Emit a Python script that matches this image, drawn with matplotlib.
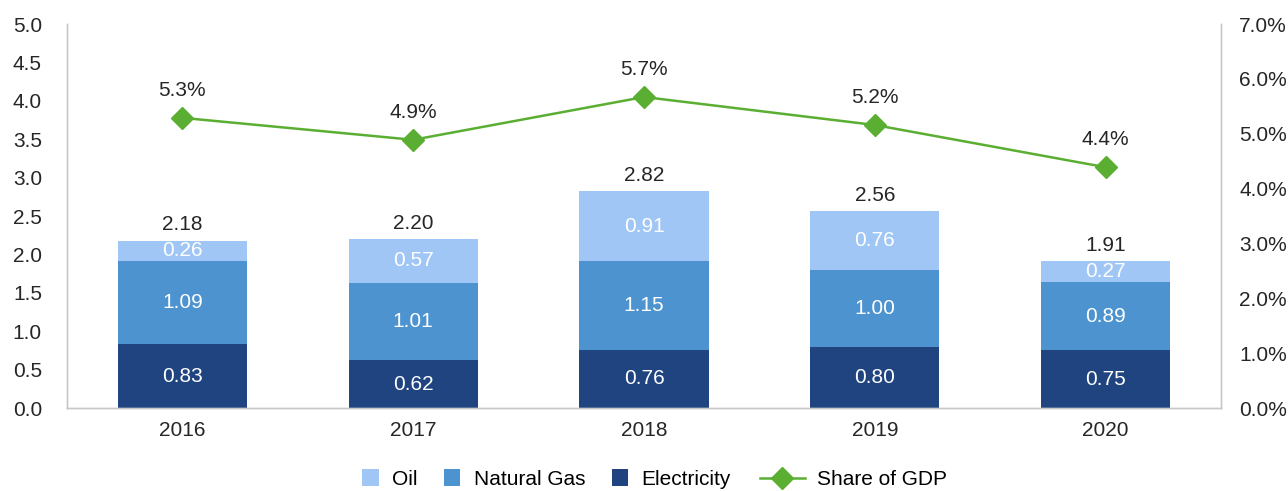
import matplotlib
matplotlib.use("Agg")
import matplotlib.pyplot as plt
from matplotlib.lines import Line2D
from matplotlib.patches import Patch, Rectangle
from matplotlib.legend_handler import HandlerPatch
import numpy as np

plt.rcParams['font.family'] = ['Liberation Sans', 'DejaVu Sans']

years = ["2016", "2017", "2018", "2019", "2020"]
electricity = [0.83, 0.62, 0.76, 0.80, 0.75]
natural_gas = [1.09, 1.01, 1.15, 1.00, 0.89]
oil = [0.26, 0.57, 0.91, 0.76, 0.27]
totals = [2.18, 2.20, 2.82, 2.56, 1.91]
share_gdp = [5.29, 4.89, 5.67, 5.16, 4.39]

c_oil = "#A0C6F6"
c_gas = "#4C93CF"
c_elec = "#1F4480"
c_line = "#5AAF32"
txt = "#262626"
grey = "#C8C8C8"


class SquareHandler(HandlerPatch):
    def create_artists(self, legend, orig_handle, xdescent, ydescent, width, height, fontsize, trans):
        s = width
        x0 = -xdescent
        y0 = (height - s) / 2 - ydescent
        p = Rectangle((x0, y0), s, s, facecolor=orig_handle.get_facecolor(), edgecolor="none", transform=trans)
        return [p]


fig = plt.figure(figsize=(12.88, 4.91), dpi=100)
ax = fig.add_axes([0.052, 0.169, 0.896, 0.782])
ax2 = ax.twinx()

x = np.arange(len(years))
w = 0.56
ax.bar(x, electricity, w, color=c_elec, zorder=2)
ax.bar(x, natural_gas, w, bottom=electricity, color=c_gas, zorder=2)
bottom3 = [e + g for e, g in zip(electricity, natural_gas)]
ax.bar(x, oil, w, bottom=bottom3, color=c_oil, zorder=2)

fs = 15
for i in range(len(years)):
    ax.text(x[i], electricity[i] / 2, f"{electricity[i]:.2f}", ha="center", va="center", color="white", fontsize=fs)
    ax.text(x[i], electricity[i] + natural_gas[i] / 2, f"{natural_gas[i]:.2f}", ha="center", va="center", color="white", fontsize=fs)
    ax.text(x[i], bottom3[i] + oil[i] / 2, f"{oil[i]:.2f}", ha="center", va="center", color="white", fontsize=fs)
    ax.text(x[i], bottom3[i] + oil[i] + 0.08, f"{totals[i]:.2f}", ha="center", va="bottom", color=txt, fontsize=fs)

ax2.plot(x, share_gdp, color=c_line, lw=1.8, marker="D", markersize=11.5, zorder=3)
for i in range(len(years)):
    ax2.text(x[i], share_gdp[i] + 0.33, f"{share_gdp[i]:.1f}%", ha="center", va="bottom", color=txt, fontsize=fs)

ax.set_xlim(-0.5, len(years) - 0.5)
ax.set_ylim(0, 5.0)
ax.set_yticks(np.arange(0, 5.01, 0.5))
ax.set_yticklabels([f"{v:.1f}" for v in np.arange(0, 5.01, 0.5)])
ax2.set_ylim(0, 7.0)
ax2.set_yticks(np.arange(0, 7.01, 1.0))
ax2.set_yticklabels([f"{v:.1f}%" for v in np.arange(0, 7.01, 1.0)])
ax.set_xticks(x)
ax.set_xticklabels(years)

for a in (ax, ax2):
    a.spines["top"].set_visible(False)
    for s in ("left", "right", "bottom"):
        a.spines[s].set_color(grey)
        a.spines[s].set_linewidth(1.0)
    a.tick_params(length=0, labelsize=fs, colors=txt)
ax.tick_params(axis="y", pad=18)
ax2.tick_params(axis="y", pad=13)
ax.tick_params(axis="x", pad=9)

patch_handles = [Patch(facecolor=c_oil, label="Oil"),
                 Patch(facecolor=c_gas, label="Natural Gas"),
                 Patch(facecolor=c_elec, label="Electricity")]
line_handle = [Line2D([0], [0], color=c_line, lw=1.8, marker="D", markersize=11.5, label="Share of GDP")]

ly = 0.004
leg1 = fig.legend(handles=patch_handles, loc="lower left", ncol=3, frameon=False, fontsize=fs,
                  bbox_to_anchor=(362 / 1288, ly), borderaxespad=0, borderpad=0,
                  handlelength=0.8, columnspacing=1.25, handletextpad=0.65,
                  handler_map={Patch: SquareHandler()})
leg2 = fig.legend(handles=line_handle, loc="lower left", ncol=1, frameon=False, fontsize=fs,
                  bbox_to_anchor=(760 / 1288, ly), borderaxespad=0, borderpad=0,
                  handlelength=2.15, handletextpad=0.6)

fig.savefig("out.png", dpi=100)
